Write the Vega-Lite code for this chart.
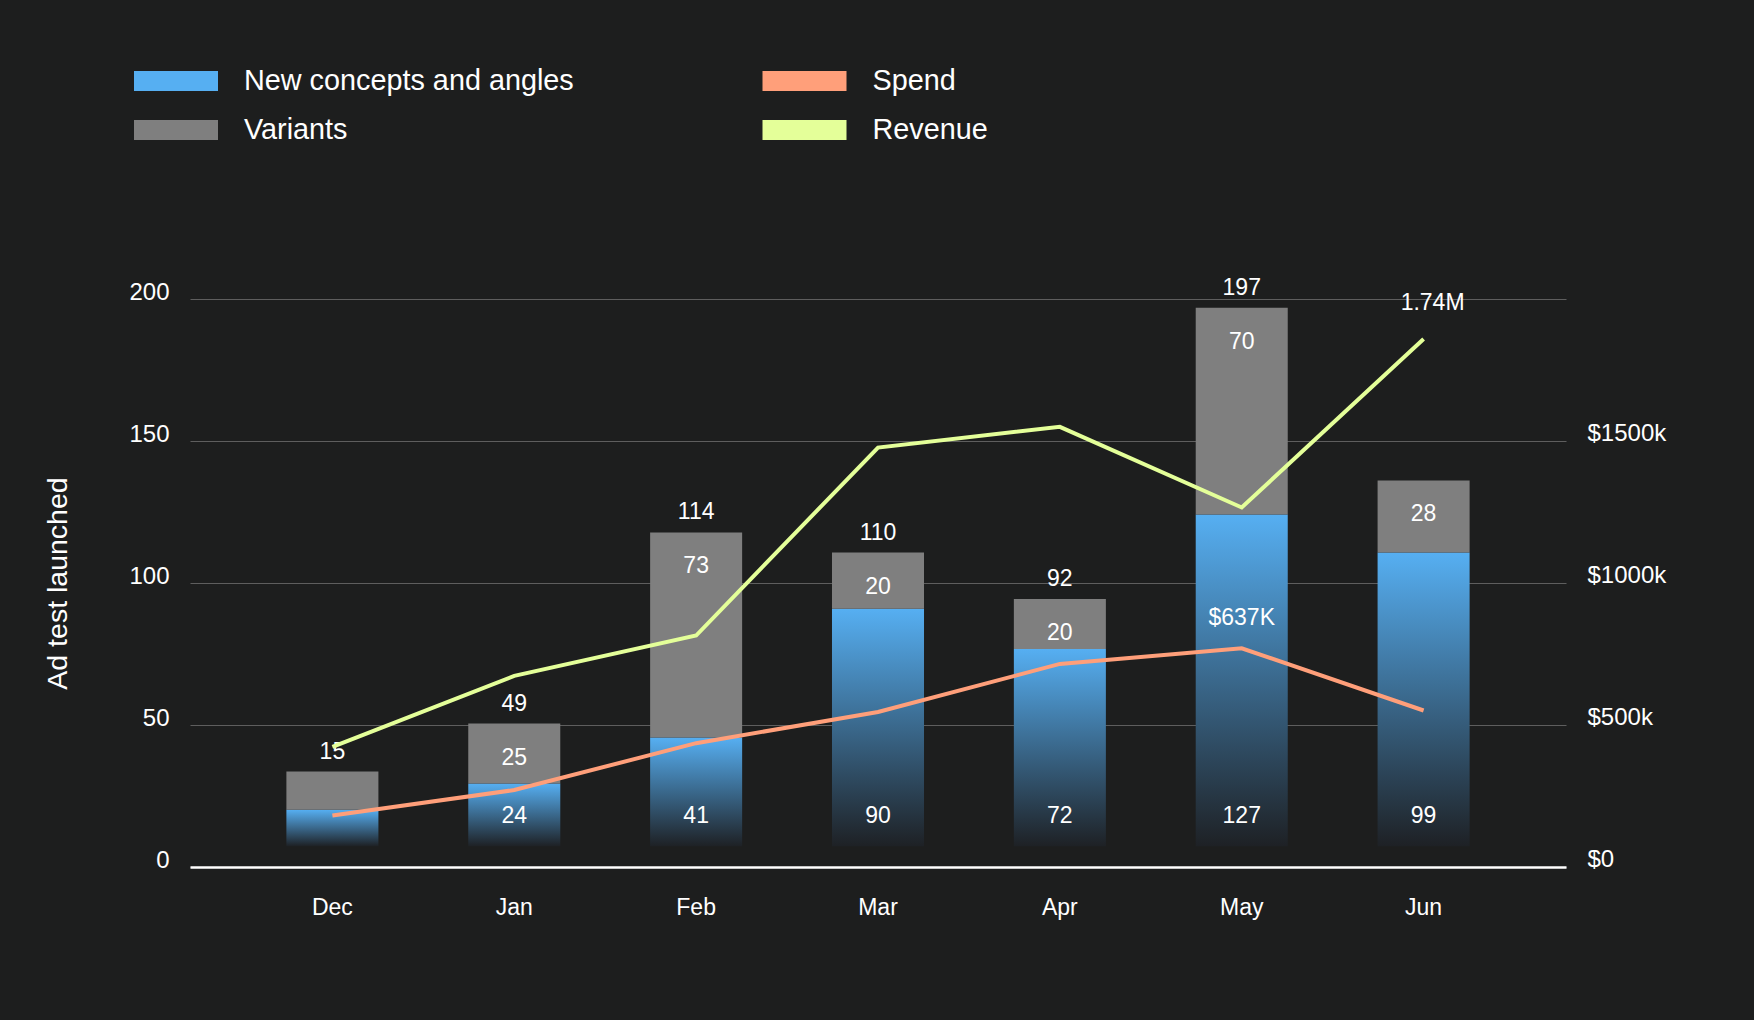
{
  "$schema": "https://vega.github.io/schema/vega-lite/v6.json",
  "autosize": {"type": "none"},
  "padding": {"left": 190, "top": 299, "right": 188, "bottom": 153},
  "width": 1376,
  "height": 568,
  "background": "#1d1e1e",
  "data": {
    "values": [
      {"month": "Dec", "new": 20.2, "total": 33.6, "totalLabel": "15", "spend": 181000, "revenue": 423000},
      {"month": "Jan", "new": 29.4, "total": 50.5, "newLabel": "24", "varLabel": "25", "totalLabel": "49", "spend": 271000, "revenue": 673000},
      {"month": "Feb", "new": 45.6, "total": 117.8, "newLabel": "41", "varLabel": "73", "totalLabel": "114", "spend": 436000, "revenue": 815000},
      {"month": "Mar", "new": 90.9, "total": 110.7, "newLabel": "90", "varLabel": "20", "totalLabel": "110", "spend": 546000, "revenue": 1477000},
      {"month": "Apr", "new": 76.8, "total": 94.4, "newLabel": "72", "varLabel": "20", "totalLabel": "92", "spend": 715000, "revenue": 1550000},
      {"month": "May", "new": 124.1, "total": 196.9, "newLabel": "127", "varLabel": "70", "totalLabel": "197", "spend": 770000, "revenue": 1266000, "spendLabel": "$637K"},
      {"month": "Jun", "new": 110.7, "total": 136.1, "newLabel": "99", "varLabel": "28", "spend": 551000, "revenue": 1859000, "revenueLabel": "1.74M"}
    ]
  },
  "encoding": {
    "x": {
      "field": "month",
      "type": "ordinal",
      "sort": null,
      "scale": {"paddingInner": 0.494, "paddingOuter": 0.53},
      "axis": {
        "title": null,
        "labelAngle": 0,
        "domainColor": "#ffffff",
        "domainWidth": 2.5,
        "ticks": false,
        "tickSize": 0,
        "grid": false,
        "labelPadding": 40.5,
        "labelBaseline": "middle",
        "labelFontSize": 23
      }
    }
  },
  "layer": [
    {
      "layer": [
        {
          "mark": {
            "type": "bar",
            "color": {
              "gradient": "linear",
              "x1": 0, "y1": 0, "x2": 0, "y2": 1,
              "stops": [
                {"offset": 0, "color": "#56aff2"},
                {"offset": 1, "color": "#1e2125"}
              ]
            }
          },
          "encoding": {
            "y": {
              "field": "new",
              "type": "quantitative",
              "title": "Ad test launched",
              "scale": {"domain": [0, 200]},
              "axis": {
                "values": [0, 50, 100, 150, 200],
                "grid": true,
                "gridColor": "#5e5e5e",
                "gridWidth": 1,
                "domain": false,
                "ticks": false,
                "tickSize": 0,
                "labelPadding": 21,
                "labelOffset": -7,
                "labelFontSize": 24,
                "titleFontSize": 28.5,
                "titleFontWeight": "normal",
                "titlePadding": 56
              }
            },
            "y2": {"datum": 7.3}
          }
        },
        {
          "mark": {"type": "bar"},
          "encoding": {
            "y": {"field": "total", "type": "quantitative", "title": "Ad test launched"},
            "y2": {"field": "new"},
            "color": {
              "datum": "Variants",
              "scale": {
                "domain": ["New concepts and angles", "Variants", "Spend", "Revenue"],
                "range": ["#56aff2", "#7f7f7f", "#ff9f7a", "#e4ff99"]
              },
              "legend": {
                "title": null,
                "orient": "none",
                "legendX": -35,
                "legendY": -239,
                "columns": 2,
                "columnPadding": 188.5,
                "rowPadding": 13,
                "padding": 0,
                "symbolType": "M-2,-0.476H2V0.476H-2Z",
                "symbolSize": 1764,
                "symbolStrokeWidth": 0,
                "symbolOpacity": 1,
                "labelFontSize": 28.8,
                "labelOffset": 47,
                "labelLimit": 700,
                "encode": {
                  "symbols": {
                    "update": {
                      "fill": {"scale": "color", "field": "value"},
                      "stroke": {"value": "transparent"}
                    }
                  }
                }
              }
            }
          }
        },
        {
          "transform": [{"filter": "isValid(datum.totalLabel)"}],
          "mark": {"type": "text", "dy": -20, "baseline": "middle", "fontSize": 23},
          "encoding": {
            "y": {"field": "total", "type": "quantitative", "title": "Ad test launched"},
            "text": {"field": "totalLabel"}
          }
        },
        {
          "transform": [{"filter": "isValid(datum.varLabel)"}],
          "mark": {"type": "text", "dy": 34, "baseline": "middle", "fontSize": 23},
          "encoding": {
            "y": {"field": "total", "type": "quantitative", "title": "Ad test launched"},
            "text": {"field": "varLabel"}
          }
        },
        {
          "transform": [{"filter": "isValid(datum.newLabel)"}],
          "mark": {"type": "text", "baseline": "middle", "fontSize": 23},
          "encoding": {
            "y": {"datum": 18, "type": "quantitative"},
            "text": {"field": "newLabel"}
          }
        }
      ]
    },
    {
      "layer": [
        {
          "mark": {"type": "line", "strokeWidth": 4, "strokeJoin": "miter"},
          "encoding": {
            "y": {
              "field": "spend",
              "type": "quantitative",
              "title": null,
              "scale": {"domain": [0, 2000000]},
              "axis": {
                "orient": "right",
                "values": [0, 500000, 1000000, 1500000],
                "labelExpr": "datum.value == 0 ? '$0' : '$' + (datum.value / 1000) + 'k'",
                "grid": false,
                "domain": false,
                "ticks": false,
                "tickSize": 0,
                "labelPadding": 21,
                "labelOffset": -8,
                "labelFontSize": 24
              }
            },
            "color": {"datum": "Spend"}
          }
        },
        {
          "mark": {"type": "line", "strokeWidth": 4, "strokeJoin": "miter"},
          "encoding": {
            "y": {"field": "revenue", "type": "quantitative", "title": null},
            "color": {"datum": "Revenue"}
          }
        },
        {
          "transform": [{"filter": "isValid(datum.spendLabel)"}],
          "mark": {"type": "text", "dy": -30, "baseline": "middle", "fontSize": 23},
          "encoding": {
            "y": {"field": "spend", "type": "quantitative", "title": null},
            "text": {"field": "spendLabel"}
          }
        },
        {
          "transform": [{"filter": "isValid(datum.revenueLabel)"}],
          "mark": {"type": "text", "dy": -36, "dx": 9, "baseline": "middle", "fontSize": 23},
          "encoding": {
            "y": {"field": "revenue", "type": "quantitative", "title": null},
            "text": {"field": "revenueLabel"}
          }
        }
      ]
    }
  ],
  "resolve": {"scale": {"y": "independent"}},
  "config": {
    "view": {"stroke": null},
    "font": "Liberation Sans",
    "text": {"color": "#ffffff", "font": "Liberation Sans"},
    "axis": {
      "labelColor": "#ffffff",
      "titleColor": "#ffffff",
      "labelFont": "Liberation Sans",
      "titleFont": "Liberation Sans"
    },
    "legend": {
      "labelColor": "#ffffff",
      "labelFont": "Liberation Sans"
    }
  }
}
